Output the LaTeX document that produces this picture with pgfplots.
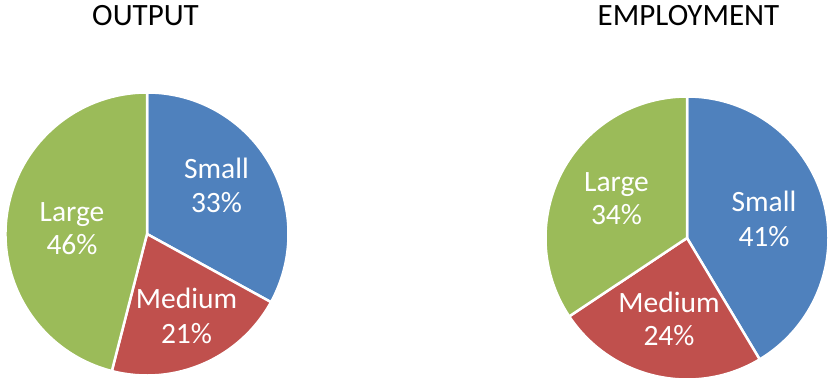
\documentclass[border=0pt]{standalone}
\usepackage{pgfplots}
\pgfplotsset{compat=1.18}
\usepackage{fontspec}
\setmainfont{Carlito}
\definecolor{cSmall}{HTML}{4F81BD}
\definecolor{cMedium}{HTML}{C0504D}
\definecolor{cLarge}{HTML}{9BBB59}
\newcommand{\titlefont}{\fontsize{31}{37}\selectfont}
\newcommand{\labfont}{\fontsize{29.5}{34}\selectfont}
% Data (percent): OUTPUT: Small 33, Medium 21, Large 46; EMPLOYMENT: Small 41, Medium 24, Large 34
\begin{document}
\begin{tikzpicture}
\begin{axis}[width=828pt,height=378pt,scale only axis,
  xmin=0,xmax=828,ymin=0,ymax=378,hide axis,clip=true]
\path (axis cs:0,0) rectangle (axis cs:828,378);
% ---- OUTPUT pie (total 100) ----
\fill[cSmall,draw=white,line width=2.5pt] (axis cs:147,144) -- ++(90:141.5pt)
  arc[start angle=90, end angle={90-33/100*360}, radius=141.5pt] -- cycle;
\fill[cMedium,draw=white,line width=2.5pt] (axis cs:147,144) -- ++({90-33/100*360}:141.5pt)
  arc[start angle={90-33/100*360}, end angle={90-(33+21)/100*360}, radius=141.5pt] -- cycle;
\fill[cLarge,draw=white,line width=2.5pt] (axis cs:147,144) -- ++({90-(33+21)/100*360}:141.5pt)
  arc[start angle={90-(33+21)/100*360}, end angle=-270, radius=141.5pt] -- cycle;
% ---- EMPLOYMENT pie (total 99) ----
\fill[cSmall,draw=white,line width=2.5pt] (axis cs:687,140) -- ++(90:141.5pt)
  arc[start angle=90, end angle={90-41/99*360}, radius=141.5pt] -- cycle;
\fill[cMedium,draw=white,line width=2.5pt] (axis cs:687,140) -- ++({90-41/99*360}:141.5pt)
  arc[start angle={90-41/99*360}, end angle={90-(41+24)/99*360}, radius=141.5pt] -- cycle;
\fill[cLarge,draw=white,line width=2.5pt] (axis cs:687,140) -- ++({90-(41+24)/99*360}:141.5pt)
  arc[start angle={90-(41+24)/99*360}, end angle=-270, radius=141.5pt] -- cycle;
% ---- titles ----
\node[anchor=base,font=\titlefont] at (axis cs:145.5,352) {OUTPUT};
\node[anchor=base,font=\titlefont] at (axis cs:688.5,352) {EMPLOYMENT};
% ---- labels ----
\begin{scope}[every node/.style={anchor=base,text=white,font=\labfont,inner sep=0pt}]
\node at (axis cs:216.5,199) {Small};
\node at (axis cs:216.5,165) {33\%};
\node at (axis cs:186.5,70) {Medium};
\node at (axis cs:186.5,35) {21\%};
\node at (axis cs:72,156) {Large};
\node at (axis cs:72,123) {46\%};
\node at (axis cs:764,166) {Small};
\node at (axis cs:764,131) {41\%};
\node at (axis cs:669,66) {Medium};
\node at (axis cs:669,33) {24\%};
\node at (axis cs:616.5,186) {Large};
\node at (axis cs:616.5,153) {34\%};
\end{scope}
\end{axis}
\end{tikzpicture}
\end{document}
